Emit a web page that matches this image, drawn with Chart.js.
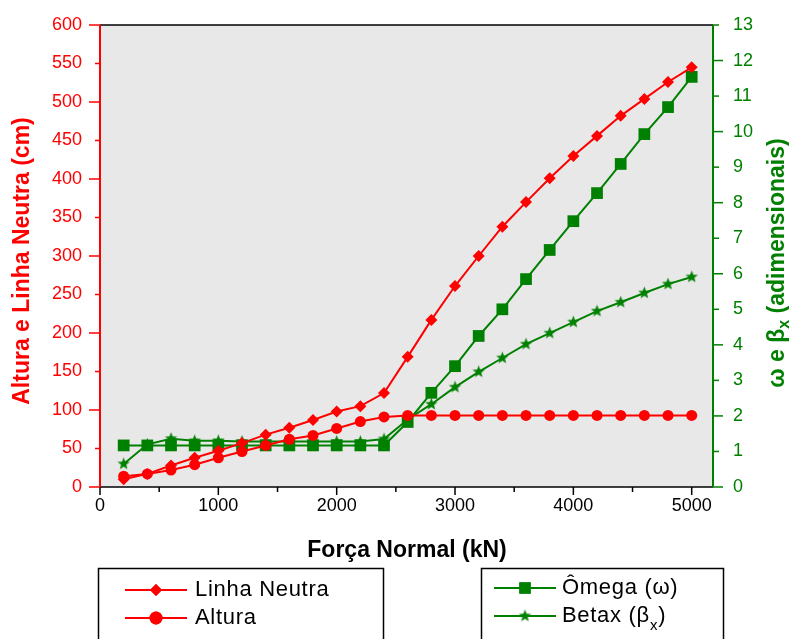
<!DOCTYPE html>
<html><head><meta charset="utf-8">
<script src="https://cdn.jsdelivr.net/npm/chart.js@4"></script>
<style>html,body{margin:0;padding:0;background:#fff;overflow:hidden;}</style>
</head><body>
<canvas id="c" width="793" height="639" style="width:793px;height:639px;display:block"></canvas>
<script>
const forca = [200,400,600,800,1000,1200,1400,1600,1800,2000,2200,2400,2600,2800,3000,3200,3400,3600,3800,4000,4200,4400,4600,4800,5000];
const linhaNeutra = [10,17,28,38,47,57,68,77,87,98,105,122,169,217,261,300,338,370,401,430,456,482,504,526,545];
const altura = [14,17,22,29,38,46,54,62,67,76,85,91,93,93,93,93,93,93,93,93,93,93,93,93,93];
const omega = [1.17,1.17,1.17,1.17,1.17,1.17,1.17,1.17,1.17,1.17,1.17,1.17,1.83,2.65,3.4,4.25,5.0,5.85,6.67,7.48,8.27,9.09,9.93,10.69,11.54];
const betax = [0.65,1.2,1.36,1.3,1.3,1.28,1.28,1.28,1.28,1.28,1.28,1.35,1.9,2.33,2.81,3.24,3.63,4.02,4.33,4.64,4.95,5.2,5.46,5.71,5.91];
const xTicks = [0,1000,2000,3000,4000,5000];
const xMinor = [500,1500,2500,3500,4500];
const leftTicks = [0,50,100,150,200,250,300,350,400,450,500,550,600];
const rightTicks = [0,1,2,3,4,5,6,7,8,9,10,11,12,13];

const RED = '#ff0000', GREEN = '#008000';
const FONT = '"Liberation Sans", Arial, sans-serif';

function makeStar(color, R){
  const s = Math.ceil(R*2+2);
  const cv = document.createElement('canvas'); cv.width = s; cv.height = s;
  const g = cv.getContext('2d');
  g.fillStyle = color; g.beginPath();
  for (let i=0;i<10;i++){
    const r = i%2===0 ? R : R*0.42;
    const a = -Math.PI/2 + i*Math.PI/5;
    const px = s/2 + r*Math.cos(a), py = s/2 + r*Math.sin(a);
    if(i===0) g.moveTo(px,py); else g.lineTo(px,py);
  }
  g.closePath(); g.fill();
  return cv;
}
const starImg = makeStar(GREEN, 6.5);

function pts(ys){ return forca.map((x,i)=>({x:x, y:ys[i]})); }

const deco = {
  id:'deco',
  beforeDraw(chart){
    const {ctx, chartArea:a} = chart;
    ctx.save();
    ctx.fillStyle = '#e8e8e8';
    ctx.fillRect(a.left, a.top, a.right-a.left, a.bottom-a.top);
    ctx.restore();
  },
  beforeDatasetsDraw(chart){
    const {ctx, chartArea:a, scales} = chart;
    ctx.save();
    ctx.strokeStyle = '#000'; ctx.lineWidth = 1.5;
    ctx.beginPath(); ctx.moveTo(a.left, a.top); ctx.lineTo(a.right, a.top); ctx.stroke();
    ctx.beginPath(); ctx.moveTo(a.left, a.bottom); ctx.lineTo(a.right, a.bottom); ctx.stroke();
    xTicks.forEach(v=>{ const p = scales.x.getPixelForValue(v); ctx.beginPath(); ctx.moveTo(p,a.bottom); ctx.lineTo(p,a.bottom+8); ctx.stroke(); });
    xMinor.forEach(v=>{ const p = scales.x.getPixelForValue(v); ctx.beginPath(); ctx.moveTo(p,a.bottom); ctx.lineTo(p,a.bottom+5); ctx.stroke(); });
    ctx.strokeStyle = RED; ctx.lineWidth = 2;
    ctx.beginPath(); ctx.moveTo(a.left, a.top); ctx.lineTo(a.left, a.bottom); ctx.stroke();
    ctx.lineWidth = 1.5;
    leftTicks.forEach(v=>{ const p = scales.y.getPixelForValue(v); const L = (v%100===0)?11:5; ctx.beginPath(); ctx.moveTo(a.left,p); ctx.lineTo(a.left-L,p); ctx.stroke(); });
    ctx.strokeStyle = GREEN; ctx.lineWidth = 2;
    ctx.beginPath(); ctx.moveTo(a.right, a.top); ctx.lineTo(a.right, a.bottom); ctx.stroke();
    ctx.lineWidth = 1.5;
    rightTicks.forEach(v=>{ const p = scales.y2.getPixelForValue(v); const L = (v%2===0)?10:6; ctx.beginPath(); ctx.moveTo(a.right,p); ctx.lineTo(a.right+L,p); ctx.stroke(); });
    ctx.restore();
  },
  afterDraw(chart){
    const {ctx} = chart;
    ctx.save();
    ctx.fillStyle = RED; ctx.font = 'bold 23px '+FONT; ctx.textAlign='center'; ctx.textBaseline='middle';
    ctx.translate(23, 261); ctx.rotate(-Math.PI/2);
    ctx.fillText('Altura e Linha Neutra (cm)', 0, 0);
    ctx.restore();

    ctx.save();
    ctx.fillStyle = GREEN; ctx.textBaseline='middle';
    ctx.translate(778, 263); ctx.rotate(-Math.PI/2);
    const big = 'bold 23px '+FONT, small = 'bold 16px '+FONT;
    ctx.font = big; const w1 = ctx.measureText('ω e β').width; const w3 = ctx.measureText(' (adimensionais)').width;
    ctx.font = small; const w2 = ctx.measureText('x').width;
    let x0 = -(w1+w2+w3)/2;
    ctx.font = big; ctx.textAlign='left'; ctx.fillText('ω e β', x0, 0);
    ctx.font = small; ctx.fillText('x', x0+w1, 7);
    ctx.font = big; ctx.fillText(' (adimensionais)', x0+w1+w2, 0);
    ctx.restore();

    ctx.save();
    ctx.fillStyle = '#000'; ctx.font = 'bold 23px '+FONT; ctx.textAlign='center'; ctx.textBaseline='middle';
    ctx.fillText('Força Normal (kN)', 407, 551);
    ctx.restore();

    ctx.save();
    ctx.strokeStyle = '#000'; ctx.lineWidth = 1.5;
    ctx.strokeRect(98.5, 568.5, 285, 90);
    ctx.strokeRect(481.5, 568.5, 242, 90);
    const entries = [
      {ds:0, x:125, y:590, tx:195, r:6, text:'Linha Neutra'},
      {ds:1, x:125, y:618, tx:195, r:6.5, text:'Altura'},
      {ds:2, x:494, y:588, tx:562, r:8, text:'Ômega (ω)'},
      {ds:3, x:494, y:616, tx:562, r:6, text:'Betax (β', sub:'x', tail:')'}
    ];
    entries.forEach(e=>{
      const d = chart.data.datasets[e.ds];
      ctx.strokeStyle = d.borderColor; ctx.lineWidth = 2;
      ctx.beginPath(); ctx.moveTo(e.x, e.y); ctx.lineTo(e.x+62, e.y); ctx.stroke();
      ctx.fillStyle = d.pointBackgroundColor;
      Chart.helpers.drawPoint(ctx, {pointStyle:d.pointStyle, radius:e.r, rotation:0, borderWidth:0}, e.x+31, e.y);
      if (d.pointStyle !== starImg) ctx.fill();
      ctx.fillStyle = '#000'; ctx.font = '22px '+FONT; ctx.textAlign='left'; ctx.textBaseline='middle';
      ctx.letterSpacing = '0.7px';
      let tx = e.tx;
      ctx.fillText(e.text, tx, e.y);
      if (e.sub){
        tx += ctx.measureText(e.text).width;
        ctx.font = '15px '+FONT; ctx.fillText(e.sub, tx, e.y+10);
        tx += ctx.measureText(e.sub).width;
        ctx.font = '22px '+FONT; ctx.fillText(e.tail, tx, e.y);
      }
    });
    ctx.restore();
  }
};

const tickFont = {family: FONT, size: 18};
function zeroPad(s){ s.paddingTop = 0; s.paddingBottom = 0; s.paddingLeft = 0; s.paddingRight = 0; }

new Chart(document.getElementById('c'), {
  type: 'line',
  data: {
    datasets: [
      {label:'Linha Neutra', data: pts(linhaNeutra), yAxisID:'y', borderColor:RED, backgroundColor:RED, pointBackgroundColor:RED, pointBorderColor:RED, pointBorderWidth:0, pointStyle:'rectRot', pointRadius:6, borderWidth:2},
      {label:'Altura', data: pts(altura), yAxisID:'y', borderColor:RED, backgroundColor:RED, pointBackgroundColor:RED, pointBorderColor:RED, pointBorderWidth:0, pointStyle:'circle', pointRadius:5.5, borderWidth:2},
      {label:'Ômega (ω)', data: pts(omega), yAxisID:'y2', borderColor:GREEN, backgroundColor:GREEN, pointBackgroundColor:GREEN, pointBorderColor:GREEN, pointBorderWidth:0, pointStyle:'rect', pointRadius:8.3, borderWidth:2},
      {label:'Betax (βx)', data: pts(betax), yAxisID:'y2', borderColor:GREEN, backgroundColor:GREEN, pointBackgroundColor:GREEN, pointBorderColor:GREEN, pointBorderWidth:0, pointStyle:starImg, pointRadius:6.5, borderWidth:2}
    ]
  },
  options: {
    responsive:false, animation:false, devicePixelRatio:1,
    layout:{padding:{top:25, left:0, right:0, bottom:0}},
    plugins:{legend:{display:false}, tooltip:{enabled:false}},
    elements:{line:{tension:0}},
    scales:{
      x:{type:'linear', min:0, max:5180,
        afterBuildTicks:s=>{ s.ticks = xTicks.map(v=>({value:v})); },
        afterFit:s=>{ s.height = 152; zeroPad(s); },
        grid:{display:false, drawTicks:false}, border:{display:false},
        ticks:{font:tickFont, color:'#000', padding:8, maxRotation:0, autoSkip:false, callback:v=>String(v)}},
      y:{type:'linear', position:'left', min:0, max:600,
        afterBuildTicks:s=>{ s.ticks = leftTicks.map(v=>({value:v})); },
        afterFit:s=>{ s.width = 100; zeroPad(s); },
        grid:{display:false, drawTicks:false}, border:{display:false},
        ticks:{font:tickFont, color:RED, padding:18, autoSkip:false, callback:v=>String(v)}},
      y2:{type:'linear', position:'right', min:0, max:13,
        afterBuildTicks:s=>{ s.ticks = rightTicks.map(v=>({value:v})); },
        afterFit:s=>{ s.width = 80; zeroPad(s); },
        grid:{display:false, drawTicks:false}, border:{display:false},
        ticks:{font:tickFont, color:GREEN, padding:20, autoSkip:false, callback:v=>String(v)}}
    }
  },
  plugins:[deco]
});
</script>
</body></html>
